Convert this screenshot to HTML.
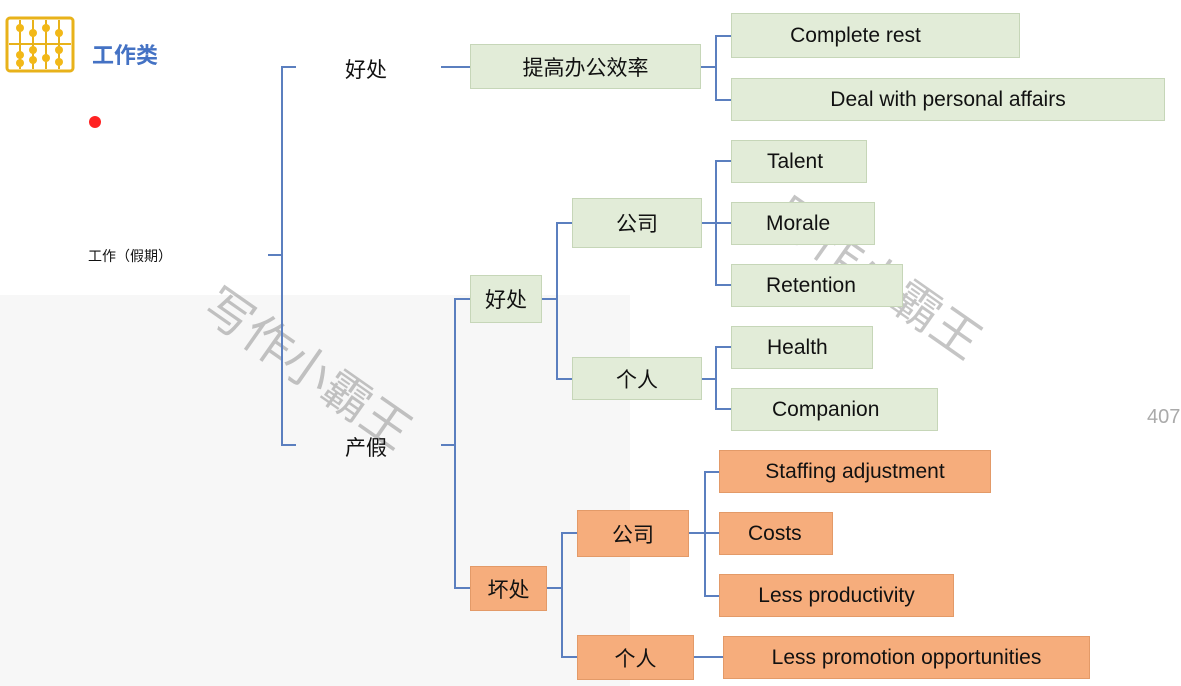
<!DOCTYPE html>
<html><head><meta charset="utf-8"><style>
body{margin:0;width:1181px;height:686px;background:#fff;position:relative;overflow:hidden;font-family:"Liberation Sans","Noto Sans CJK SC",sans-serif;}
.b{position:absolute;box-sizing:border-box;display:flex;align-items:center;justify-content:center;font-size:21px;color:#111;}
.g{background:#e2ecd8;border:1.5px solid #c6d6b8;}
.o{background:#f6ad7c;border:1.5px solid #e39a68;}
.t{position:absolute;font-size:21px;color:#111;}
.wm{position:absolute;font-size:48px;color:rgba(110,110,110,0.4);transform:rotate(35deg);white-space:nowrap;}
</style></head><body>
<div style="position:absolute;left:0;top:295px;width:630px;height:391px;background:#f7f7f7"></div>
<div class="wm" style="left:190px;top:330px">写作小霸王</div>
<div class="wm" style="left:760px;top:240px">写作小霸王</div>
<svg width="1181" height="686" style="position:absolute;left:0;top:0" fill="none" stroke="#5b7fbf" stroke-width="2">
<path d="M268 255H282M296 67H282V445H296"/>
<path d="M441 67H470"/>
<path d="M701 67H716M731 36H716V100H731"/>
<path d="M441 445H455M470 299H455V588H470"/>
<path d="M542 299H557M572 223H557V379H572"/>
<path d="M702 223H731M731 161H716V285H731"/>
<path d="M702 379H716M731 347H716V409H731"/>
<path d="M547 588H562M577 533H562V657H577"/>
<path d="M689 533H719M719 472H705V596H719"/>
<path d="M694 657H723"/>
<rect x="7" y="18" width="66" height="53" rx="3" stroke="#e8b21a" stroke-width="3"/>
<path d="M9 44H71M20 20V69M33 20V69M46 20V69M59 20V69" stroke="#e8b21a" stroke-width="2"/>
</svg>
<svg width="1181" height="686" style="position:absolute;left:0;top:0">
<g fill="#f2b818"><circle cx="20" cy="28" r="4"/><circle cx="33" cy="33" r="4"/><circle cx="46" cy="28" r="4"/><circle cx="59" cy="33" r="4"/><circle cx="20" cy="55" r="4"/><circle cx="33" cy="50" r="4"/><circle cx="46" cy="58" r="4"/><circle cx="59" cy="50" r="4"/><circle cx="20" cy="63" r="4"/><circle cx="33" cy="60" r="4"/><circle cx="59" cy="62" r="4"/></g>
<circle cx="95" cy="122" r="6" fill="#f22"/>
</svg>
<div class="t" style="left:92px;top:38px;color:#4472c4;font-weight:bold;font-size:22px">工作类</div>
<div class="t" style="left:88px;top:246px;font-size:14px">工作（假期）</div>
<div class="t" style="left:345px;top:54px">好处</div>
<div class="t" style="left:345px;top:432px">产假</div>
<div class="t" style="left:1147px;top:406px;color:#aaa;font-size:20px">407</div>
<div class="b g" style="left:470px;top:44px;width:231px;height:45px">提高办公效率</div>
<div class="b g" style="left:731px;top:13px;width:289px;height:45px;padding-right:40px">Complete rest</div>
<div class="b g" style="left:731px;top:78px;width:434px;height:43px">Deal with personal affairs</div>
<div class="b g" style="left:731px;top:140px;width:136px;height:43px;justify-content:flex-start;padding-left:35px">Talent</div>
<div class="b g" style="left:731px;top:202px;width:144px;height:43px;justify-content:flex-start;padding-left:34px">Morale</div>
<div class="b g" style="left:731px;top:264px;width:172px;height:43px;justify-content:flex-start;padding-left:34px">Retention</div>
<div class="b g" style="left:731px;top:326px;width:142px;height:43px;justify-content:flex-start;padding-left:35px">Health</div>
<div class="b g" style="left:731px;top:388px;width:207px;height:43px;justify-content:flex-start;padding-left:40px">Companion</div>
<div class="b g" style="left:572px;top:198px;width:130px;height:50px">公司</div>
<div class="b g" style="left:572px;top:357px;width:130px;height:43px">个人</div>
<div class="b g" style="left:470px;top:275px;width:72px;height:48px">好处</div>
<div class="b o" style="left:470px;top:566px;width:77px;height:45px">坏处</div>
<div class="b o" style="left:577px;top:510px;width:112px;height:47px">公司</div>
<div class="b o" style="left:577px;top:635px;width:117px;height:45px">个人</div>
<div class="b o" style="left:719px;top:450px;width:272px;height:43px">Staffing adjustment</div>
<div class="b o" style="left:719px;top:512px;width:114px;height:43px;justify-content:flex-start;padding-left:28px">Costs</div>
<div class="b o" style="left:719px;top:574px;width:235px;height:43px">Less productivity</div>
<div class="b o" style="left:723px;top:636px;width:367px;height:43px">Less promotion opportunities</div>
</body></html>
